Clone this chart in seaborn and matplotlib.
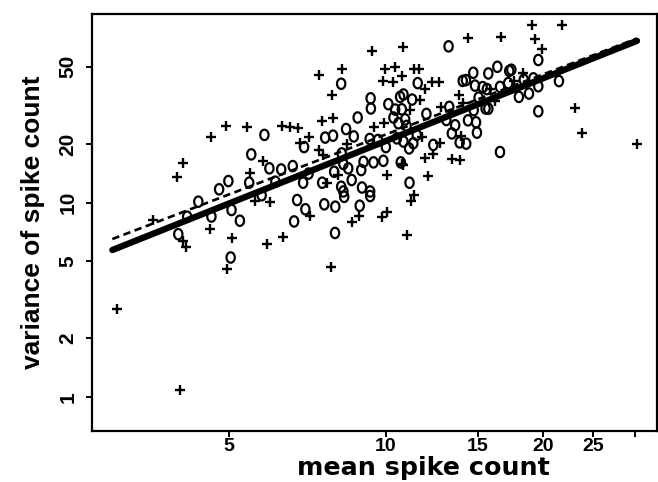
import numpy as np
import pandas as pd
import matplotlib
matplotlib.use("Agg")
import matplotlib.pyplot as plt
from matplotlib.path import Path
from matplotlib.ticker import FixedLocator, FixedFormatter, NullLocator
import seaborn as sns

# ---------------- data ----------------
# cells marked "+"
plus_mean = [3.05, 4.03, 3.58, 4.09, 4.14, 4.60, 5.08, 4.95, 5.91, 6.35,
             5.61, 6.00, 7.16, 7.84, 8.63, 8.90, 9.81, 10.03, 11.0, 11.18,
             11.33, 10.81, 12.04, 10.07, 10.73, 11.89, 12.31, 13.38, 13.87, 7.71,
             8.11, 5.50, 5.81, 4.08, 3.98, 4.63, 4.94, 5.42, 6.33, 6.55,
             6.78, 7.13, 6.85, 7.46, 7.59, 8.42, 7.53, 7.91, 7.88, 7.43,
             8.24, 9.40, 9.47, 9.94, 9.96, 10.42, 9.88, 10.30, 10.77, 10.73,
             11.33, 11.58, 11.87, 12.26, 12.64, 11.63, 11.13, 12.76, 11.73, 13.96,
             12.68, 13.81, 14.07, 14.37, 16.65, 15.84, 16.19, 17.61, 18.32, 19.09,
             21.73, 19.32, 19.95, 23.05, 23.75, 30.3]
plus_var = [2.83, 1.08, 8.13, 6.33, 5.92, 7.31, 6.54, 4.53, 6.09, 6.67,
            10.2, 10.06, 8.52, 4.63, 7.97, 8.52, 8.40, 8.97, 6.80, 10.18,
            10.93, 15.6, 13.69, 13.85, 15.73, 16.95, 17.75, 16.85, 16.55, 12.65,
            13.85, 14.14, 16.35, 16.03, 13.61, 21.8, 24.9, 24.45, 24.9, 24.45,
            24.2, 21.8, 20.3, 18.6, 17.5, 20.0, 26.4, 27.1, 35.9, 45.6,
            48.5, 60.3, 24.5, 25.6, 48.9, 50.0, 42.2, 41.9, 63.1, 44.8,
            48.5, 48.5, 38.4, 41.7, 41.7, 33.6, 29.9, 31.1, 21.8, 22.1,
            20.2, 35.9, 32.5, 70.6, 71.5, 38.4, 33.3, 42.4, 46.4, 82.0,
            82.0, 69.3, 61.5, 30.7, 22.7, 20.0]

# cells marked "o"
circ_mean = [4.00, 4.63, 5.06, 5.25, 5.04, 4.37, 4.16, 4.79, 4.99, 5.47,
             5.52, 5.85, 5.98, 5.78, 6.30, 6.14, 6.63, 7.11, 6.94, 7.55,
             7.96, 8.29, 8.47, 8.97, 9.06, 9.47, 9.89, 8.60, 8.21, 8.29,
             8.32, 9.00, 9.33, 9.33, 6.76, 7.01, 7.62, 8.00, 8.91, 6.67,
             7.99, 6.97, 7.65, 7.92, 8.68, 8.39, 8.83, 8.21, 9.35, 9.36,
             9.31, 9.66, 8.23, 10.0, 10.68, 11.10, 10.11, 10.42, 10.73, 10.34,
             10.89, 10.57, 10.96, 11.46, 10.50, 10.81, 11.08, 11.29, 12.33, 10.65,
             10.81, 11.23, 11.96, 13.23, 13.06, 13.58, 14.37, 14.89, 13.38, 14.95,
             13.85, 14.26, 16.55, 11.51, 13.19, 14.04, 14.24, 14.71, 15.72, 16.36,
             17.24, 17.40, 18.38, 19.18, 21.47, 19.60, 18.81, 17.99, 17.16, 16.55,
             14.82, 15.33, 15.62, 15.06, 15.53, 15.72, 14.74, 19.60, 19.60]
circ_var = [6.87, 8.47, 9.15, 8.06, 5.21, 10.1, 8.45, 11.7, 12.9, 12.65,
            17.7, 22.3, 15.0, 10.9, 14.8, 12.8, 15.4, 14.1, 12.65, 12.65,
            14.4, 15.8, 15.0, 14.7, 16.2, 16.1, 16.4, 13.06, 12.06, 11.4,
            10.7, 11.95, 11.4, 10.8, 10.3, 9.23, 9.79, 9.52, 9.63, 7.99,
            6.97, 19.3, 21.6, 22.1, 21.9, 23.9, 27.4, 40.9, 34.4, 30.5,
            21.25, 21.0, 17.9, 19.3, 16.1, 12.65, 32.1, 30.1, 30.2, 27.4,
            26.8, 25.6, 24.8, 22.3, 21.4, 20.6, 19.0, 20.2, 19.8, 35.0,
            36.0, 33.9, 28.6, 31.1, 26.6, 25.0, 26.5, 25.9, 22.7, 22.9,
            20.4, 20.1, 18.2, 41.2, 63.7, 42.3, 42.7, 46.6, 46.2, 50.0,
            47.6, 48.3, 42.9, 43.6, 42.2, 39.7, 36.4, 35.0, 41.2, 39.4,
            40.0, 39.3, 38.4, 34.7, 30.5, 30.4, 29.9, 29.5, 54.2]

# power-law fits  var = a * mean**b
fit_range = [2.99, 30.3]
solid_fit = [1.762, 1.071]    # a, b
dashed_fit = [2.106, 1.027]   # a, b

x_ticks = [5, 10, 15, 20, 25, 30]
x_tick_labels = ["5", "10", "15", "20", "25", ""]
y_ticks = [1, 2, 5, 10, 20, 50]
y_tick_labels = ["1", "2", "5", "10", "20", "50"]

# ---------------- plotting ----------------
sns.set_theme(style="ticks")
plt.rcParams['font.family'] = ['Liberation Sans', 'DejaVu Sans']
plt.rcParams['font.weight'] = 'bold'

W, H = 658, 482
fig = plt.figure(figsize=(W / 100, H / 100), dpi=100)
ax = fig.add_axes([92 / W, 1 - 431 / H, 565 / W, 417 / H])
ax.set_xscale('log')
ax.set_yscale('log')

df_plus = pd.DataFrame({'mean': plus_mean, 'var': plus_var})
df_circ = pd.DataFrame({'mean': circ_mean, 'var': circ_var})

fx = np.geomspace(fit_range[0], fit_range[1], 50)
df_solid = pd.DataFrame({'mean': fx, 'var': solid_fit[0] * fx ** solid_fit[1]})
df_dash = pd.DataFrame({'mean': fx, 'var': dashed_fit[0] * fx ** dashed_fit[1]})

theta = np.linspace(0, 2 * np.pi, 61)
oval = Path(np.column_stack([0.8 * np.cos(theta), np.sin(theta)]), closed=True)

sns.scatterplot(data=df_circ, x='mean', y='var', marker=oval, s=56,
                facecolor='none', edgecolor='black', linewidth=1.6,
                ax=ax, zorder=3, legend=False)
sns.scatterplot(data=df_plus, x='mean', y='var', marker='+', s=46,
                color='black', linewidth=1.7, ax=ax, zorder=3, legend=False)

sns.lineplot(data=df_dash, x='mean', y='var', color='black', linewidth=1.9,
             linestyle=(0, (2.8, 1.7)), ax=ax, zorder=4, legend=False)
sns.lineplot(data=df_solid, x='mean', y='var', color='black', linewidth=4.6,
             ax=ax, zorder=5, legend=False)

ax.set_xlim(2.733, 33.1)
ax.set_ylim(0.666, 93.5)

ax.xaxis.set_major_locator(FixedLocator(x_ticks))
ax.xaxis.set_major_formatter(FixedFormatter(x_tick_labels))
ax.xaxis.set_minor_locator(NullLocator())
ax.yaxis.set_major_locator(FixedLocator(y_ticks))
ax.yaxis.set_major_formatter(FixedFormatter(y_tick_labels))
ax.yaxis.set_minor_locator(NullLocator())

ax.tick_params(axis='both', which='major', direction='out', length=4.5,
               width=1.4, color='black', labelcolor='black',
               top=False, right=False)
ax.tick_params(axis='x', pad=0.5, labelsize=14)
ax.tick_params(axis='y', pad=6, labelrotation=90, labelsize=15)
for lab in ax.get_yticklabels():
    lab.set_va('center')
    lab.set_fontweight('bold')
for lab in ax.get_xticklabels():
    lab.set_fontweight('bold')

for sp in ax.spines.values():
    sp.set_visible(True)
    sp.set_color('black')
    sp.set_linewidth(1.6)

ax.set_ylabel('variance of spike count', fontsize=19, fontweight='bold', color='black')
ax.yaxis.set_label_coords(-0.083, 0.5)

# x label: placed just under the tick labels, sized to stay inside the figure
fig.canvas.draw()
renderer = fig.canvas.get_renderer()
tick_bottom = min(t.get_window_extent(renderer).y0
                  for t in ax.get_xticklabels() if t.get_text())
ax_box = ax.get_window_extent(renderer)
label_top = tick_bottom - 1.0
y_frac = (label_top - ax_box.y0) / ax_box.height
size = 20.0
while True:
    ax.set_xlabel('mean spike count', fontsize=size, fontweight='bold',
                  color='black', family=['DejaVu Sans'])
    ax.xaxis.set_label_coords(0.586, y_frac)
    fig.canvas.draw()
    lb = ax.xaxis.label.get_window_extent(renderer)
    if lb.y0 >= 0.5 or size <= 12:
        break
    size -= 0.25

fig.savefig('out.png', dpi=100, facecolor='white')
